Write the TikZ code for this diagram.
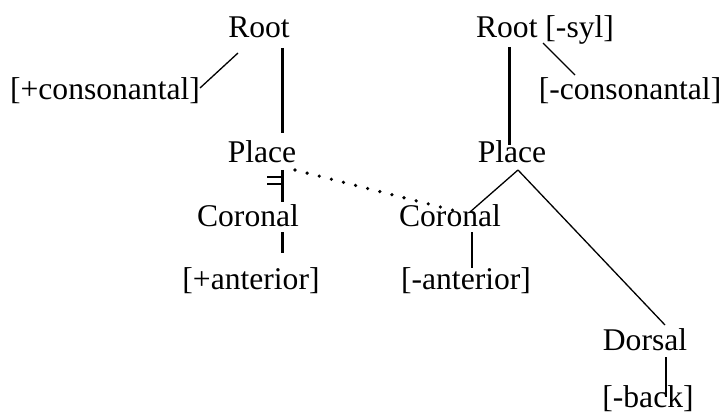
\documentclass[tikz,border=0pt]{standalone}
\usepackage{fontspec}
\setmainfont{Liberation Serif}
\begin{document}
\begin{tikzpicture}[x=1pt,y=-1pt,
  lbl/.style={anchor=base,inner sep=0pt,font=\fontsize{31.6}{38}\selectfont},
  thick line/.style={line width=3pt},
  thin line/.style={line width=1.3pt},
  dotline/.style={line width=3.6pt,line cap=round,dash pattern=on 0pt off 12.5pt}]
\useasboundingbox (0,0) rectangle (725,414);
% left tree
\node[lbl] (rootL) at (259,38) {Root};
\node[lbl] (consP) at (105,100) {[+consonantal]};
\node[lbl] (placeL) at (262,163) {Place};
\node[lbl] (corL) at (248,226) {Coronal};
\node[lbl] (antP) at (251,289) {[+anterior]};
% right tree
\node[lbl] (rootR) at (545,38) {Root [-syl]};
\node[lbl] (consM) at (630,100) {[-consonantal]};
\node[lbl] (placeR) at (512,163) {Place};
\node[lbl] (corR) at (450,226) {Coronal};
\node[lbl] (antM) at (466,289) {[-anterior]};
\node[lbl] (dorsal) at (645,350) {Dorsal};
\node[lbl] (back) at (648,407) {[-back]};
% connector end points attached to nodes
\coordinate (cA) at ([shift={(95,-12)}]consP.base);
\coordinate (cB) at ([shift={(-21,15)}]rootL.base);
\coordinate (lR1) at ([shift={(23,10)}]rootL.base);
\coordinate (lR2) at ([shift={(20,-30)}]placeL.base);
\coordinate (lP1) at ([shift={(20,7)}]placeL.base);
\coordinate (lP2) at ([shift={(34,-24)}]corL.base);
\coordinate (lC1) at ([shift={(34,6)}]corL.base);
\coordinate (lC2) at ([shift={(31,-36)}]antP.base);
\coordinate (dS) at ([shift={(33,7)}]placeL.base);
\coordinate (dE) at ([shift={(10,-14)}]corR.base);
\coordinate (rR1) at ([shift={(-36,9)}]rootR.base);
\coordinate (rR2) at ([shift={(-3,-18)}]placeR.base);
\coordinate (rS1) at ([shift={(-2,5)}]rootR.base);
\coordinate (rS2) at ([shift={(-55,-25)}]consM.base);
\coordinate (pR) at ([shift={(6,7)}]placeR.base);
\coordinate (cR1) at ([shift={(20,-14)}]corR.base);
\coordinate (dR1) at ([shift={(20,-25)}]dorsal.base);
\coordinate (cR2) at ([shift={(22,6)}]corR.base);
\coordinate (aR2) at ([shift={(6,-21)}]antM.base);
\coordinate (dD1) at ([shift={(21,7)}]dorsal.base);
\coordinate (dD2) at ([shift={(18,-10)}]back.base);
% connectors
\draw[thin line] (cA) -- (cB);
\draw[thick line] (lR1) -- (lR2);
\draw[thick line] (lP1) -- (lP2);
\draw[thick line] (lC1) -- (lC2);
\draw[line width=2pt] ([shift={(-15,7)}]lP1) -- ([shift={(-1,7)}]lP1);
\draw[line width=2pt] ([shift={(-15,14)}]lP1) -- ([shift={(-1,14)}]lP1);
\draw[dotline] (dS) -- (dE);
\draw[thick line] (rR1) -- (rR2);
\draw[thin line] (rS1) -- (rS2);
\draw[thin line] (pR) -- (cR1);
\draw[thin line] (pR) -- (dR1);
\draw[thin line] (cR2) -- (aR2);
\draw[thin line] (dD1) -- (dD2);
\end{tikzpicture}
\end{document}
